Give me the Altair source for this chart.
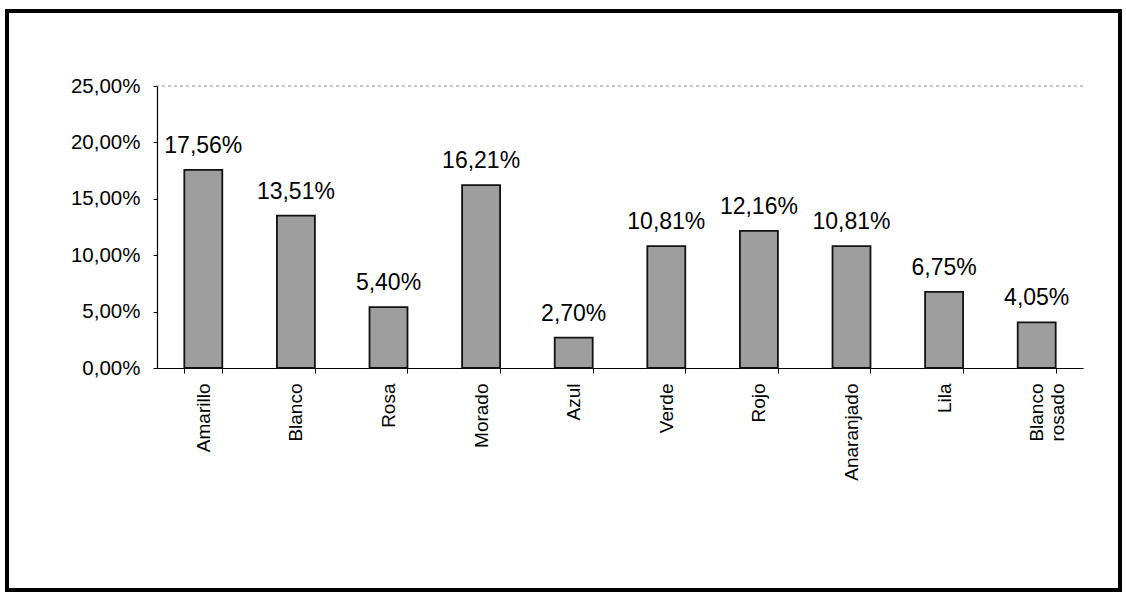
import altair as alt
import pandas as pd

categorias = ["Amarillo", "Blanco", "Rosa", "Morado", "Azul", "Verde", "Rojo",
              "Anaranjado", "Lila", "Blanco rosado"]
porcentajes = [17.56, 13.51, 5.40, 16.21, 2.70, 10.81, 12.16, 10.81, 6.75, 4.05]
y_ticks = [0, 5, 10, 15, 20, 25]

df = pd.DataFrame({"color": categorias, "pct": porcentajes})

FONT = "Liberation Sans"
W, H = 926, 282
PAD_L, PAD_T = 157, 86

x_enc = alt.X(
    "color:N", sort=categorias, title=None,
    scale=alt.Scale(paddingInner=0.59, paddingOuter=0.295),
    axis=alt.Axis(
        labelAngle=270, labelAlign="right", labelBaseline="middle",
        labelFont=FONT, labelFontSize=19, labelColor="black",
        labelPadding=10, labelLineHeight=21,
        labelExpr="split(datum.label, ' ')",
        tickBand="extent", tickSize=5, tickColor="black",
        domainColor="black", domainWidth=1.2, grid=False,
    ),
)
y_enc = alt.Y(
    "pct:Q", title=None,
    scale=alt.Scale(domain=[0, 25], nice=False),
    axis=alt.Axis(
        values=y_ticks, labelExpr="replace(format(datum.value, '.2f'), '.', ',') + '%'",
        labelFont=FONT, labelFontSize=20.5, labelColor="black", labelPadding=13,
        tickSize=4, tickColor="black", domainColor="black", domainWidth=1.2,
        grid=False,
    ),
)

bars = alt.Chart(df).mark_bar(
    fill="#9e9e9e", stroke="#111111", strokeWidth=1.8
).encode(x=x_enc, y=y_enc)

labels = alt.Chart(df).transform_calculate(
    txt="replace(format(datum.pct, '.2f'), '.', ',') + '%'"
).mark_text(
    font=FONT, fontSize=23, color="black", baseline="alphabetic", dy=-17
).encode(x=alt.X("color:N", sort=categorias), y="pct:Q", text="txt:N")

grid = alt.Chart(pd.DataFrame({"g": [25]})).mark_rule(
    color="#8a8a8a", strokeDash=[3, 3], strokeWidth=1
).encode(y="g:Q")

frame = alt.Chart(pd.DataFrame({"f": [0]})).mark_rect(
    fill=None, stroke="black", strokeWidth=4
).encode(
    x=alt.value(7 - PAD_L), x2=alt.value(1120 - PAD_L),
    y=alt.value(11 - PAD_T), y2=alt.value(590 - PAD_T),
)

chart = alt.layer(grid, bars, labels, frame).properties(
    width=W, height=H,
    autosize=alt.AutoSizeParams(type="none"),
    padding={"left": PAD_L, "top": PAD_T, "right": 1126 - PAD_L - W, "bottom": 596 - PAD_T - H},
    background="white",
).configure_view(stroke=None)

chart.save("out.html", embed_options={"renderer": "svg", "actions": False})
